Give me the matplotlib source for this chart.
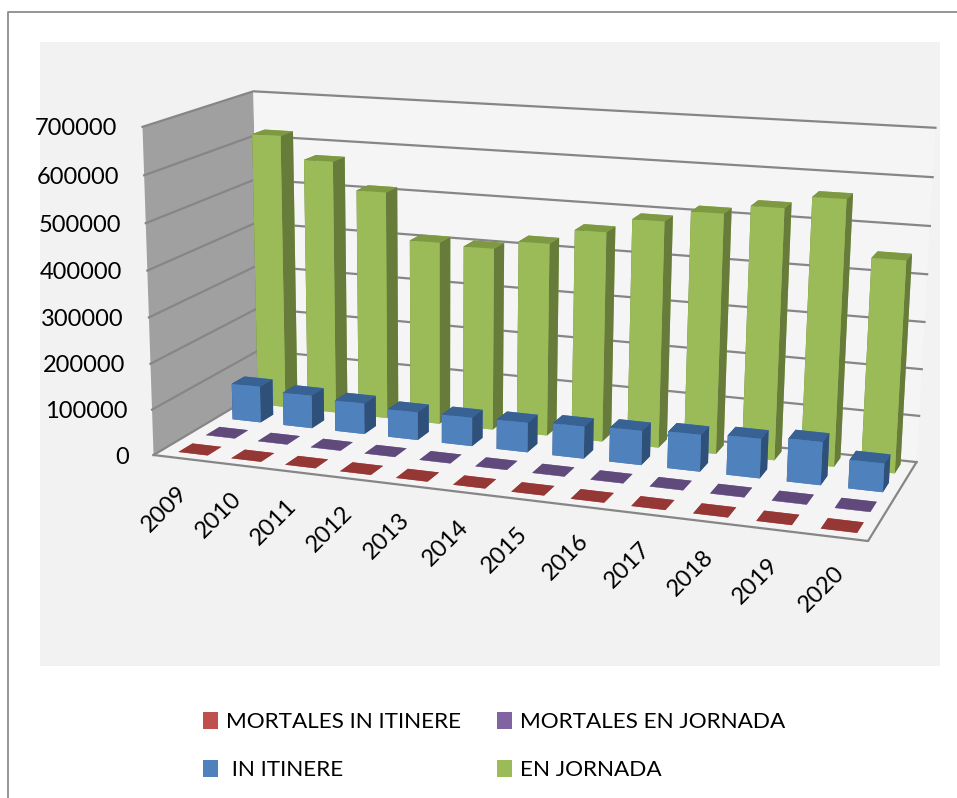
import numpy as np
import matplotlib
matplotlib.use("Agg")
import matplotlib.pyplot as plt
from matplotlib.lines import Line2D
from matplotlib.patches import Patch, Rectangle
from mpl_toolkits.mplot3d import proj3d
from mpl_toolkits.mplot3d.art3d import Poly3DCollection

plt.rcParams["font.family"] = ["Lato", "DejaVu Sans"]

YEARS = ["2009", "2010", "2011", "2012", "2013", "2014", "2015", "2016", "2017", "2018", "2019", "2020"]
MORTALES_IN_ITINERE = [190, 170, 150, 130, 125, 130, 120, 130, 140, 150, 145, 120]
MORTALES_EN_JORNADA = [630, 570, 520, 450, 450, 470, 515, 495, 485, 505, 575, 595]
IN_ITINERE = [82000, 74000, 69000, 62000, 63000, 65000, 70000, 74000, 79000, 84000, 91000, 60000]
EN_JORNADA = [620000, 570000, 510000, 408000, 404000, 424000, 458000, 490000, 515000, 535000, 562000, 446000]
Z_TICKS = [0, 100000, 200000, 300000, 400000, 500000, 600000, 700000]

SERIES = [
    ("MORTALES IN ITINERE", MORTALES_IN_ITINERE, "#C0504D", "#953735", "#953735", "#953735"),
    ("MORTALES EN JORNADA", MORTALES_EN_JORNADA, "#8064A2", "#604A7B", "#604A7B", "#604A7B"),
    (" IN ITINERE", IN_ITINERE, "#4F81BD", "#386293", "#2F5078", "#4F81BD"),
    ("EN JORNADA", EN_JORNADA, "#9BBB59", "#7D9A43", "#677B3B", "#9BBB59"),
]

W, H = 957, 798
N = len(YEARS)
DEPTH = len(SERIES)
Z_MAX = Z_TICKS[-1]
BAR_W = 0.55
BAR_D = 0.5
# the bars do not start right at the left wall
CAT_START = 0.09
CAT_STEP = 0.992

# where the corners of the chart box sit in the picture, (x, y, z) -> pixel
CORNERS = [
    ((0, 0, 0), (156, 454)),
    ((0, 0, 1), (140, 127)),
    ((0, 1, 0), (257, 393)),
    ((0, 1, 1), (256, 91)),
    ((1, 1, 0), (917, 461)),
    ((1, 1, 1), (935, 128)),
    ((1, 0, 0), (868, 542)),
]


def to_axes2d(ax, px, py):
    return ax.transData.inverted().transform((px, H - py))


def fit_camera(ax):
    rows = []
    rhs = []
    for (x, y, z), (px, py) in CORNERS:
        u, v = to_axes2d(ax, px, py)
        rows.append([x, y, z, 1, 0, 0, 0, 0, -u * x, -u * y, -u * z])
        rows.append([0, 0, 0, 0, x, y, z, 1, -v * x, -v * y, -v * z])
        rhs += [u, v]
    p = np.linalg.lstsq(np.array(rows, float), np.array(rhs, float), rcond=None)[0]
    cam = np.append(p, 1.0).reshape(3, 4)
    # data units to the unit box
    cam = cam @ np.diag([1 / N, 1 / DEPTH, 1 / Z_MAX, 1.0])
    return np.vstack([cam[0], cam[1], [0, 0, 0, -1.0], cam[2]])


fig = plt.figure(figsize=(W / 100, H / 100), dpi=100, facecolor="white")
fig.add_artist(Rectangle((40 / W, 1 - 666 / H), 900 / W, 624 / H, transform=fig.transFigure,
                         facecolor="#F2F2F2", edgecolor="none", zorder=0))
fig.add_artist(Line2D([8 / W, 8 / W, 1], [0, 1 - 12 / H, 1 - 12 / H], transform=fig.transFigure,
                      color="#8C8C8C", lw=1.3, zorder=0))

# square axes, wider than the figure is tall, so nothing gets clipped
ax = fig.add_axes([0, (H - W) / 2 / H, 1, W / H], projection="3d")
ax.set_zorder(2)
ax.set_axis_off()
ax.patch.set_visible(False)
ax.computed_zorder = False
ax.apply_aspect()
M = fit_camera(ax)
ax.get_proj = lambda: M
ax.set_xlim(0, N)
ax.set_ylim(0, DEPTH)
ax.set_zlim(0, Z_MAX)

walls = [
    ([(0, 0, 0), (0, DEPTH, 0), (0, DEPTH, Z_MAX), (0, 0, Z_MAX)], "#A0A0A0"),
    ([(0, DEPTH, 0), (N, DEPTH, 0), (N, DEPTH, Z_MAX), (0, DEPTH, Z_MAX)], "#F5F5F5"),
    ([(0, 0, 0), (N, 0, 0), (N, DEPTH, 0), (0, DEPTH, 0)], "#F4F4F4"),
]
for verts, col in walls:
    ax.add_collection3d(Poly3DCollection([verts], facecolors=col, edgecolors="none", zorder=1), autolim=False)

GRID = "#868686"
for v in Z_TICKS:
    ax.plot([0, 0, N], [0, DEPTH, DEPTH], [v, v, v], color=GRID, lw=1.6, zorder=2)
ax.plot([0, N, N], [0, 0, DEPTH], [0, 0, 0], color=GRID, lw=1.6, zorder=2)

cat_pos = CAT_START + np.arange(N) * CAT_STEP
for j, (name, vals, front, top, side, _) in enumerate(SERIES):
    xs = cat_pos + (1 - BAR_W) / 2
    ys = np.full(N, j + (1 - BAR_D) / 2 + 0.04)
    # bottom, top, front, back, left, right
    face_cols = [front, top, front, front, side, side] * N
    # back series first
    ax.bar3d(xs, ys, np.zeros(N), BAR_W, BAR_D, vals, color=face_cols, shade=False,
             edgecolor="none", linewidth=0, zorder=3 + DEPTH - j)

for v in Z_TICKS:
    x2, y2, _ = proj3d.proj_transform(0, 0, v, M)
    ax.annotate(str(v), xy=(x2, y2), xycoords="data", xytext=(-25, -2), textcoords="offset pixels",
                ha="right", va="center", fontsize=17, color="black", annotation_clip=False)

for i, year in enumerate(YEARS):
    x2, y2, _ = proj3d.proj_transform(cat_pos[i] + 0.5, -0.45, 0, M)
    ax.annotate(year, xy=(x2, y2), xycoords="data", xytext=(5, -15), textcoords="offset pixels",
                ha="right", va="top", rotation=45, rotation_mode="anchor",
                fontsize=17, color="black", annotation_clip=False)

handles = [Patch(facecolor=s[2], edgecolor="none", label=s[0]) for s in SERIES]
# legend fills column by column
order = [0, 2, 1, 3]
fig.legend([handles[k] for k in order], [SERIES[k][0] for k in order], ncol=2, frameon=False,
           loc="center", bbox_to_anchor=(494 / W, 1 - 746 / H), fontsize=16.2,
           handlelength=0.67, handleheight=0.8, handletextpad=0.36, columnspacing=1.6, labelspacing=1.2,
           borderpad=0)

fig.savefig("out.png", dpi=100)
